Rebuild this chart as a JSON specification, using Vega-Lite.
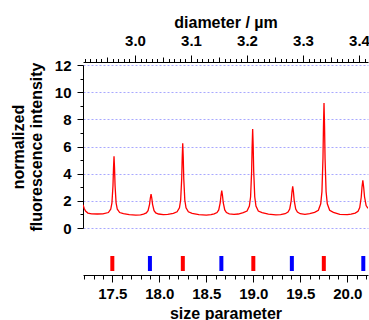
{
  "$schema": "https://vega.github.io/schema/vega-lite/v6.json",
  "padding": {"left": 10, "top": 14, "right": 0, "bottom": 0},
  "background": "white",
  "config": {
    "view": {"stroke": null},
    "font": "Liberation Sans",
    "axis": {
      "labelFont": "Liberation Sans",
      "labelFontSize": 15,
      "labelFontWeight": "bold",
      "labelColor": "#000000",
      "titleFont": "Liberation Sans",
      "titleFontSize": 16,
      "titleFontWeight": "bold",
      "titleColor": "#000000",
      "domainColor": "#000000",
      "domainWidth": 1,
      "tickColor": "#000000",
      "tickWidth": 1,
      "labelOverlap": false,
      "labelFlush": false
    }
  },
  "spacing": 20,
  "vconcat": [
    {
      "width": 285,
      "height": 163,
      "layer": [
        {
          "data": {"values": [
            {"sp": 17.188, "v": 1.72}, {"sp": 17.2, "v": 1.45}, {"sp": 17.215, "v": 1.25}, {"sp": 17.24, "v": 1.1},
            {"sp": 17.28, "v": 1.04}, {"sp": 17.34, "v": 1.03}, {"sp": 17.4, "v": 1.04}, {"sp": 17.458, "v": 1.14},
            {"sp": 17.483, "v": 1.38}, {"sp": 17.496, "v": 1.85}, {"sp": 17.507, "v": 3.13}, {"sp": 17.5125, "v": 4.4},
            {"sp": 17.518, "v": 5.28}, {"sp": 17.5235, "v": 4.4}, {"sp": 17.529, "v": 3.13}, {"sp": 17.54, "v": 1.85},
            {"sp": 17.553, "v": 1.38}, {"sp": 17.578, "v": 1.14}, {"sp": 17.618, "v": 1.05}, {"sp": 17.68, "v": 0.98},
            {"sp": 17.75, "v": 0.95}, {"sp": 17.8, "v": 0.97}, {"sp": 17.832, "v": 1.03}, {"sp": 17.862, "v": 1.11},
            {"sp": 17.88, "v": 1.28}, {"sp": 17.896, "v": 1.74}, {"sp": 17.904, "v": 2.19}, {"sp": 17.912, "v": 2.5},
            {"sp": 17.92, "v": 2.19}, {"sp": 17.928, "v": 1.74}, {"sp": 17.944, "v": 1.28}, {"sp": 17.962, "v": 1.11},
            {"sp": 17.992, "v": 1.03}, {"sp": 18.042, "v": 0.99}, {"sp": 18.09, "v": 1.0}, {"sp": 18.149, "v": 1.08},
            {"sp": 18.189, "v": 1.19}, {"sp": 18.214, "v": 1.49}, {"sp": 18.227, "v": 2.06}, {"sp": 18.238, "v": 3.62},
            {"sp": 18.2435, "v": 5.19}, {"sp": 18.249, "v": 6.23}, {"sp": 18.2545, "v": 5.19}, {"sp": 18.26, "v": 3.62},
            {"sp": 18.271, "v": 2.06}, {"sp": 18.284, "v": 1.49}, {"sp": 18.309, "v": 1.19}, {"sp": 18.349, "v": 1.08},
            {"sp": 18.42, "v": 0.98}, {"sp": 18.5, "v": 0.95}, {"sp": 18.55, "v": 0.98}, {"sp": 18.584, "v": 1.04},
            {"sp": 18.614, "v": 1.14}, {"sp": 18.632, "v": 1.33}, {"sp": 18.648, "v": 1.86}, {"sp": 18.656, "v": 2.39},
            {"sp": 18.664, "v": 2.75}, {"sp": 18.672, "v": 2.39}, {"sp": 18.68, "v": 1.86}, {"sp": 18.696, "v": 1.33},
            {"sp": 18.714, "v": 1.14}, {"sp": 18.744, "v": 1.04}, {"sp": 18.794, "v": 1.0}, {"sp": 18.84, "v": 1.03},
            {"sp": 18.893, "v": 1.13}, {"sp": 18.933, "v": 1.25}, {"sp": 18.958, "v": 1.61}, {"sp": 18.971, "v": 2.3},
            {"sp": 18.982, "v": 4.17}, {"sp": 18.9875, "v": 6.04}, {"sp": 18.993, "v": 7.29}, {"sp": 18.9985, "v": 6.04},
            {"sp": 19.004, "v": 4.17}, {"sp": 19.015, "v": 2.3}, {"sp": 19.028, "v": 1.61}, {"sp": 19.053, "v": 1.25},
            {"sp": 19.093, "v": 1.13}, {"sp": 19.16, "v": 1.02}, {"sp": 19.24, "v": 0.96}, {"sp": 19.29, "v": 0.98},
            {"sp": 19.339, "v": 1.05}, {"sp": 19.369, "v": 1.17}, {"sp": 19.387, "v": 1.39}, {"sp": 19.403, "v": 2.02},
            {"sp": 19.411, "v": 2.65}, {"sp": 19.419, "v": 3.07}, {"sp": 19.427, "v": 2.65}, {"sp": 19.435, "v": 2.02},
            {"sp": 19.451, "v": 1.39}, {"sp": 19.469, "v": 1.17}, {"sp": 19.499, "v": 1.05}, {"sp": 19.549, "v": 1.0},
            {"sp": 19.6, "v": 1.05}, {"sp": 19.652, "v": 1.15}, {"sp": 19.692, "v": 1.31}, {"sp": 19.717, "v": 1.78},
            {"sp": 19.73, "v": 2.68}, {"sp": 19.741, "v": 5.13}, {"sp": 19.7465, "v": 7.57}, {"sp": 19.752, "v": 9.2},
            {"sp": 19.7575, "v": 7.57}, {"sp": 19.763, "v": 5.13}, {"sp": 19.774, "v": 2.68}, {"sp": 19.787, "v": 1.78},
            {"sp": 19.812, "v": 1.31}, {"sp": 19.852, "v": 1.15}, {"sp": 19.92, "v": 1.0}, {"sp": 20.0, "v": 0.98},
            {"sp": 20.04, "v": 1.02}, {"sp": 20.084, "v": 1.1}, {"sp": 20.114, "v": 1.23}, {"sp": 20.132, "v": 1.5},
            {"sp": 20.148, "v": 2.26}, {"sp": 20.156, "v": 3.0}, {"sp": 20.165, "v": 3.51}, {"sp": 20.174, "v": 3.0},
            {"sp": 20.183, "v": 2.3}, {"sp": 20.2, "v": 1.65}, {"sp": 20.22, "v": 1.45}
          ]},
          "mark": {"type": "line", "color": "#ff0000", "strokeWidth": 1.3, "clip": true, "interpolate": "linear"},
          "encoding": {
            "x": {"field": "sp", "type": "quantitative", "scale": {"domain": [17.188, 20.22], "nice": false, "zero": false}, "axis": null},
            "y": {
              "field": "v", "type": "quantitative",
              "scale": {"domain": [0, 12], "nice": false, "zero": true},
              "axis": {
                "title": ["normalized", "fluorescence intensity"],
                "titleLineHeight": 18,
                "titlePadding": 10,
                "values": [0, 1, 2, 3, 4, 5, 6, 7, 8, 9, 10, 11, 12],
                "labelExpr": "datum.value % 2 == 0 ? datum.label : ''",
                "tickSize": {"condition": {"test": "datum.value % 2 == 0", "value": 6}, "value": 3},
                "labelPadding": 6,
                "grid": true,
                "gridColor": "#a8a8ff",
                "gridDash": [2, 2],
                "gridWidth": 1,
                "gridOpacity": {"condition": {"test": "datum.value % 2 == 0", "value": 1}, "value": 0}
              }
            }
          }
        },
        {
          "data": {"values": [{"d": 3.0}, {"d": 3.4}]},
          "mark": {"type": "point", "opacity": 0},
          "encoding": {
            "x": {
              "field": "d", "type": "quantitative",
              "scale": {"domain": [2.90714, 3.41607], "nice": false, "zero": false},
              "axis": {
                "orient": "top",
                "title": "diameter / µm",
                "titlePadding": 3,
                "offset": 3,
                "values": [2.91, 2.92, 2.93, 2.94, 2.95, 2.96, 2.97, 2.98, 2.99, 3.0, 3.01, 3.02, 3.03, 3.04, 3.05, 3.06, 3.07, 3.08, 3.09, 3.1, 3.11, 3.12, 3.13, 3.14, 3.15, 3.16, 3.17, 3.18, 3.19, 3.2, 3.21, 3.22, 3.23, 3.24, 3.25, 3.26, 3.27, 3.28, 3.29, 3.3, 3.31, 3.32, 3.33, 3.34, 3.35, 3.36, 3.37, 3.38, 3.39, 3.4, 3.41],
                "labelExpr": "abs(datum.value * 10 - round(datum.value * 10)) < 0.001 ? format(datum.value, '.1f') : ''",
                "tickSize": {"condition": [
                  {"test": "abs(datum.value * 10 - round(datum.value * 10)) < 0.001", "value": 7},
                  {"test": "abs(datum.value * 20 - round(datum.value * 20)) < 0.001", "value": 5}
                ], "value": 3.5},
                "labelPadding": 7,
                "grid": false
              }
            }
          }
        }
      ],
      "resolve": {"scale": {"x": "independent"}}
    },
    {
      "width": 285,
      "height": 15,
      "data": {"values": [
        {"pos": 17.5, "mode": "TE"}, {"pos": 18.25, "mode": "TE"}, {"pos": 19.0, "mode": "TE"}, {"pos": 19.75, "mode": "TE"},
        {"pos": 17.9, "mode": "TM"}, {"pos": 18.66, "mode": "TM"}, {"pos": 19.41, "mode": "TM"}, {"pos": 20.17, "mode": "TM"}
      ]},
      "mark": {"type": "tick", "orient": "vertical", "thickness": 4, "size": 15, "opacity": 1},
      "encoding": {
        "x": {
          "field": "pos", "type": "quantitative",
          "scale": {"domain": [17.188, 20.22], "nice": false, "zero": false},
          "axis": {
            "title": "size parameter",
            "titlePadding": 4,
            "offset": 4,
            "values": [17.2, 17.3, 17.4, 17.5, 17.6, 17.7, 17.8, 17.9, 18.0, 18.1, 18.2, 18.3, 18.4, 18.5, 18.6, 18.7, 18.8, 18.9, 19.0, 19.1, 19.2, 19.3, 19.4, 19.5, 19.6, 19.7, 19.8, 19.9, 20.0, 20.1, 20.2],
            "labelExpr": "abs(datum.value * 2 - round(datum.value * 2)) < 0.001 ? format(datum.value, '.1f') : ''",
            "tickSize": {"condition": {"test": "abs(datum.value * 2 - round(datum.value * 2)) < 0.001", "value": 7}, "value": 4},
            "labelPadding": 4,
            "grid": false
          }
        },
        "color": {"field": "mode", "type": "nominal", "scale": {"domain": ["TE", "TM"], "range": ["#ff0000", "#0000ff"]}, "legend": null}
      }
    }
  ]
}
